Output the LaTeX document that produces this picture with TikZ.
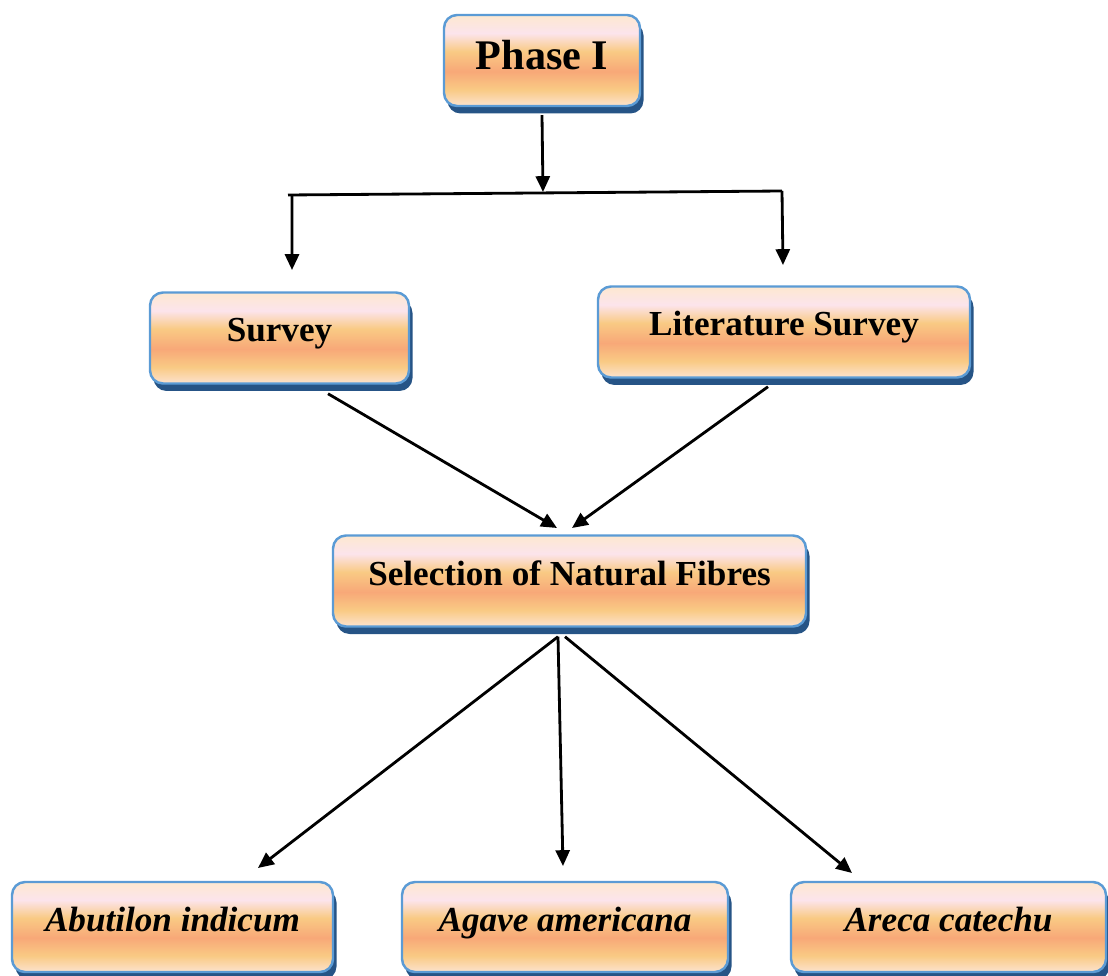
\documentclass[tikz,border=0pt]{standalone}
\usepackage{fontspec}
\setmainfont{Liberation Serif}
\usetikzlibrary{shadows}
\usetikzlibrary{arrows.meta}
\definecolor{boxline}{RGB}{91,155,213}
\definecolor{boxshadow}{RGB}{38,84,134}
\definecolor{fillLight}{RGB}{252,226,206}
\definecolor{fillYellow}{RGB}{249,202,132}
\definecolor{fillSalmon}{RGB}{248,168,120}
\definecolor{fillPink}{RGB}{252,228,236}
\definecolor{fillPeach}{RGB}{253,232,208}
\pgfdeclareverticalshading{boxfill}{100bp}{color(0bp)=(fillLight); color(25bp)=(fillLight); color(34bp)=(fillYellow); color(44bp)=(fillSalmon); color(55bp)=(fillYellow); color(65bp)=(fillPink); color(75bp)=(fillPeach); color(100bp)=(fillPeach)}

\begin{document}
\begin{tikzpicture}[
    fibrebox/.style={draw=boxline, line width=1.4pt, rounded corners=0.26cm, shading=boxfill,
        drop shadow={shadow xshift=0.07cm, shadow yshift=-0.15cm, fill=boxshadow, opacity=1},
        minimum height=1.82cm, inner sep=0pt, font=\bfseries\fontsize{20}{24}\selectfont,
        text height=0.5cm, text depth=0.34cm},
    flow/.style={line width=1.6pt, -{Triangle[length=9pt,width=8pt]}}]
    \useasboundingbox (0,0) rectangle (22.16,19.5);
    \clip (0,0) rectangle (22.16,19.5);
    % boxes
    \node[fibrebox, minimum width=3.92cm, font=\bfseries\fontsize{24}{28}\selectfont, text height=0.6cm, text depth=0.24cm] (phase) at (10.84,18.29) {Phase I};
    \node[fibrebox, minimum width=5.18cm] (survey) at (5.59,12.74) {Survey};
    \node[fibrebox, minimum width=7.44cm] (litsurvey) at (15.68,12.86) {Literature Survey};
    \node[fibrebox, minimum width=9.46cm] (selection) at (11.39,7.88) {Selection of Natural Fibres};
    \node[fibrebox, minimum width=6.42cm, minimum height=1.8cm, font=\bfseries\itshape\fontsize{20}{24}\selectfont] (abutilon) at (3.45,0.96) {Abutilon indicum};
    \node[fibrebox, minimum width=6.52cm, minimum height=1.8cm, font=\bfseries\itshape\fontsize{20}{24}\selectfont] (agave) at (11.3,0.96) {Agave americana};
    \node[fibrebox, minimum width=6.3cm, minimum height=1.8cm, font=\bfseries\itshape\fontsize{20}{24}\selectfont] (areca) at (18.97,0.96) {Areca catechu};
    % free ends
    \coordinate (split) at (10.86,15.66);
    \coordinate (barL) at (5.76,15.6);
    \coordinate (barR) at (15.64,15.68);
    \coordinate (surveyin) at (5.84,14.1);
    \coordinate (litin) at (15.66,14.2);
    \coordinate (selinL) at (11.14,8.94);
    \coordinate (selinR) at (11.44,8.94);
    \coordinate (abutilonin) at (5.16,2.14);
    \coordinate (agavein) at (11.26,2.18);
    \coordinate (arecain) at (17.04,2.04);
    % connectors
    \draw[flow] ([yshift=-0.16cm]phase.south) -- (split);
    \draw[line width=1.6pt] (barL) -- (barR);
    \draw[flow] ([xshift=0.08cm]barL) -- (surveyin);
    \draw[flow] (barR) -- (litin);
    \draw[flow] ([xshift=0.97cm,yshift=-0.18cm]survey.south) -- (selinL);
    \draw[flow] ([xshift=-0.32cm,yshift=-0.16cm]litsurvey.south) -- (selinR);
    \draw[flow] ([xshift=-0.23cm,yshift=-0.18cm]selection.south) -- (abutilonin);
    \draw[flow] ([xshift=-0.23cm,yshift=-0.18cm]selection.south) -- (agavein);
    \draw[flow] ([xshift=-0.09cm,yshift=-0.18cm]selection.south) -- (arecain);
\end{tikzpicture}
\end{document}
